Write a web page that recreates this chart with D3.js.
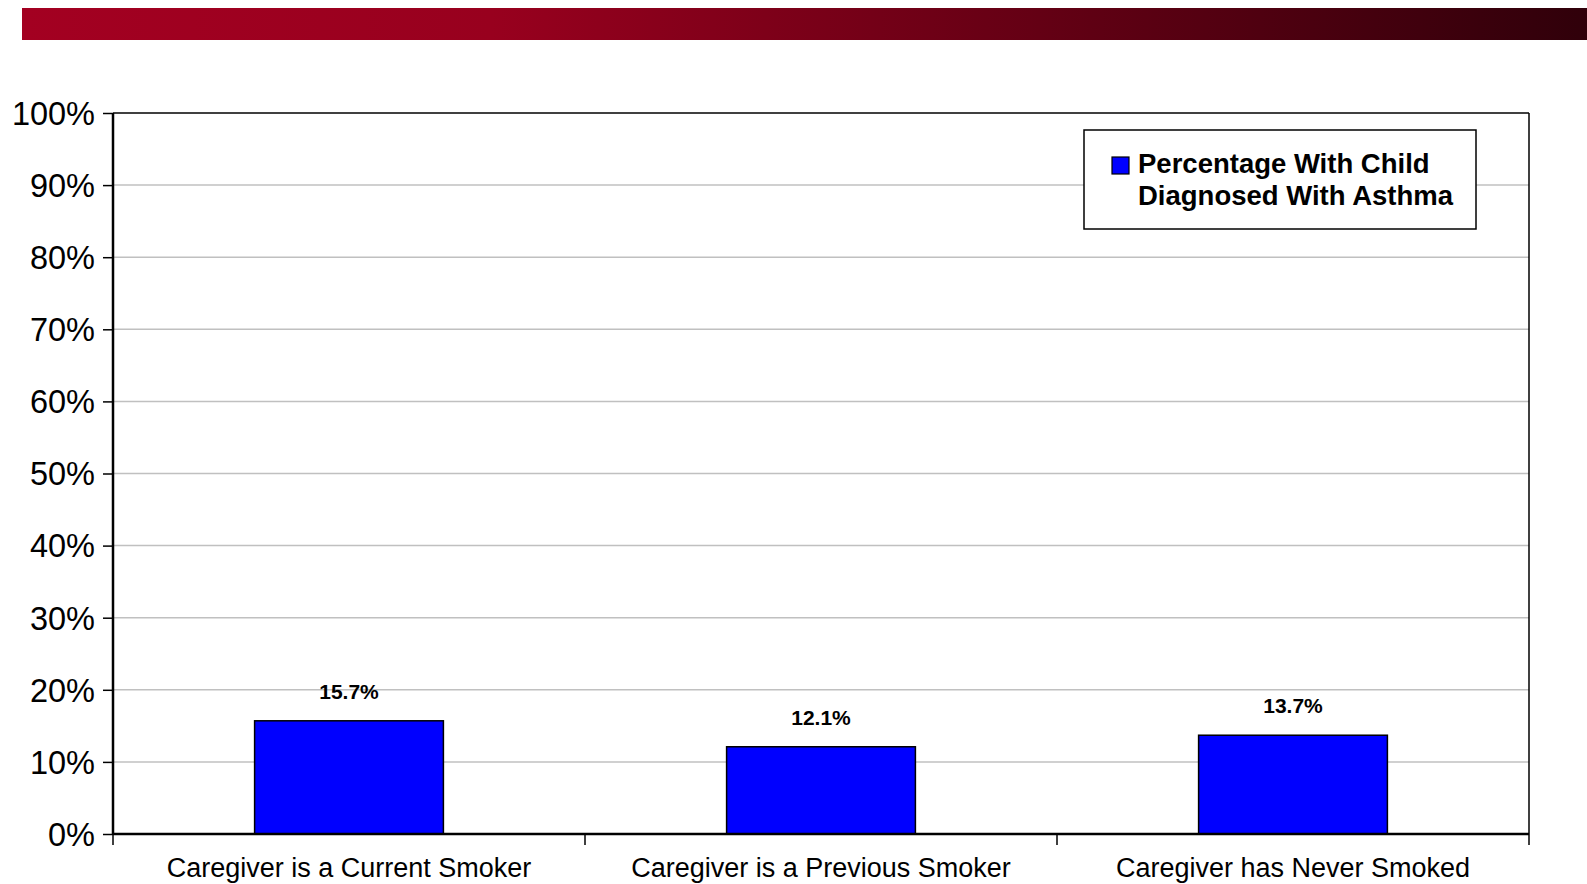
<!DOCTYPE html>
<html><head><meta charset="utf-8">
<script src="https://cdn.jsdelivr.net/npm/d3@7"></script>
<style>body{margin:0;background:#fff}svg{display:block}text{font-family:"Liberation Sans",Arial,sans-serif}</style>
</head><body>
<svg id="c" width="1587" height="884"></svg>
<script>
const categories = ["Caregiver is a Current Smoker","Caregiver is a Previous Smoker","Caregiver has Never Smoked"];
const values = [15.7, 12.1, 13.7];
const valueLabels = ["15.7%","12.1%","13.7%"];
const yTicks = [0,10,20,30,40,50,60,70,80,90,100];
const seriesName = ["Percentage With Child","Diagnosed With Asthma"];

const svg = d3.select("#c");
const defs = svg.append("defs");
const grad = defs.append("linearGradient").attr("id","banner").attr("x1","0").attr("x2","1");
grad.append("stop").attr("offset","0").attr("stop-color","#a30021");
grad.append("stop").attr("offset","0.3").attr("stop-color","#98001e");
grad.append("stop").attr("offset","1").attr("stop-color","#30000a");
svg.append("rect").attr("x",22).attr("y",8).attr("width",1565).attr("height",32).attr("fill","url(#banner)");

const L=113,R=1529,T=113,B=834;
const x = d3.scaleBand().domain(categories).range([L,R]).paddingInner(0.6).paddingOuter(0.3);
const xb = d3.scaleBand().domain(categories).range([L,R]);
const y = d3.scaleLinear().domain([0,100]).range([B,T]);

// gridlines
svg.append("g").selectAll("line").data(yTicks.slice(1,-1)).join("line")
  .attr("x1",L).attr("x2",R).attr("y1",d=>y(d)).attr("y2",d=>y(d))
  .attr("stroke","#c0c0c0").attr("stroke-width",1.5);

// frame top/right
svg.append("line").attr("x1",L).attr("x2",R).attr("y1",T).attr("y2",T).attr("stroke","#000").attr("stroke-width",1.5);
svg.append("line").attr("x1",R).attr("x2",R).attr("y1",T).attr("y2",B).attr("stroke","#000").attr("stroke-width",1.5);

// bars
svg.append("g").selectAll("rect").data(values).join("rect")
  .attr("x",(d,i)=>x(categories[i])).attr("width",x.bandwidth())
  .attr("y",d=>y(d)).attr("height",d=>B-y(d))
  .attr("fill","#0000ff").attr("stroke","#000").attr("stroke-width",1.5);

svg.append("g").selectAll("text").data(values).join("text")
  .attr("x",(d,i)=>x(categories[i])+x.bandwidth()/2).attr("y",d=>y(d)-22)
  .attr("text-anchor","middle").attr("font-weight","bold").attr("font-size",21)
  .text((d,i)=>valueLabels[i]);

// y axis
const ya = svg.append("g").attr("transform",`translate(${L},0)`)
  .call(d3.axisLeft(y).tickValues(yTicks).tickSize(10).tickPadding(8).tickFormat(d=>d+"%"));
ya.select(".domain").attr("stroke-width",2.5).attr("d",`M0,${T}V${B}`);
ya.selectAll(".tick line").attr("stroke-width",1.5);
ya.selectAll("text").attr("font-size",32.5).attr("font-family","Liberation Sans, Arial, sans-serif").attr("fill","#000").attr("dy","0.35em");

// x axis
const xa = svg.append("g").attr("transform",`translate(0,${B})`);
xa.append("line").attr("x1",L).attr("x2",R).attr("stroke","#000").attr("stroke-width",2.5);
const bounds = categories.map(c=>xb(c)).concat([R]);
xa.selectAll("line.t").data(bounds).join("line").attr("class","t")
  .attr("x1",d=>d).attr("x2",d=>d).attr("y1",0).attr("y2",11).attr("stroke","#000").attr("stroke-width",1.5);
xa.selectAll("text").data(categories).join("text")
  .attr("x",d=>xb(d)+xb.bandwidth()/2).attr("y",43).attr("text-anchor","middle")
  .attr("font-size",27).text(d=>d);

// legend
const lg = svg.append("g");
lg.append("rect").attr("x",1084).attr("y",130).attr("width",392).attr("height",99)
  .attr("fill","#fff").attr("stroke","#000").attr("stroke-width",1.5);
lg.append("rect").attr("x",1112).attr("y",157).attr("width",17).attr("height",17)
  .attr("fill","#0000ff").attr("stroke","#000").attr("stroke-width",1.2);
lg.selectAll("text").data(seriesName).join("text")
  .attr("x",1138).attr("y",(d,i)=>173+i*32).attr("font-weight","bold").attr("font-size",27.5).text(d=>d);
</script>
</body></html>
